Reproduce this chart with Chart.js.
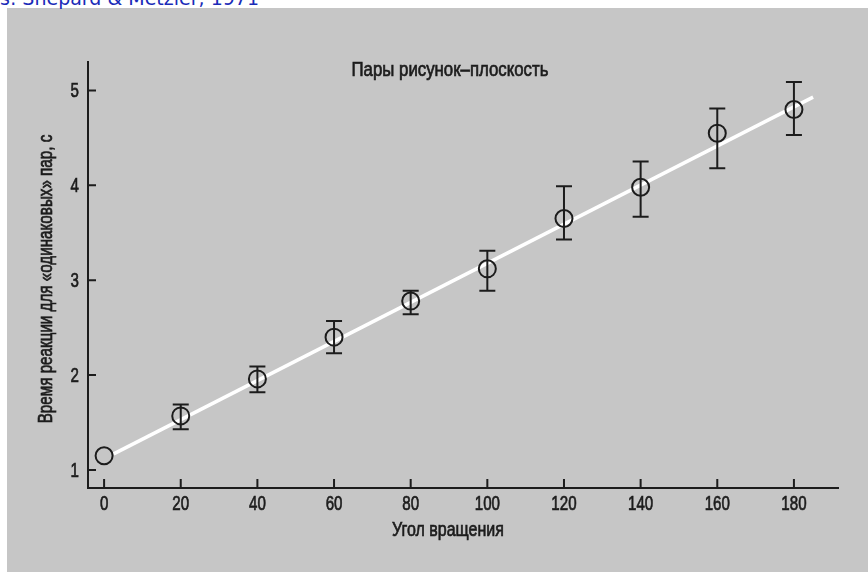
<!DOCTYPE html>
<html>
<head>
<meta charset="utf-8">
<script src="https://cdn.jsdelivr.net/npm/chart.js@4/dist/chart.umd.min.js"></script>
<style>
  body { margin: 0; background: #fff; width: 868px; height: 572px; overflow: hidden; position: relative; }
  #paper { position: absolute; left: 7px; top: 8px; right: 0; bottom: 0; background: #c6c6c6; }
  #source { position: absolute; left: 0; top: -13px; font: 19px "DejaVu Sans", Verdana, sans-serif; color: #1a2bb8; white-space: nowrap; }
  canvas { position: absolute; left: 0; top: 0; }
</style>
</head>
<body>
<div id="paper"></div>
<div id="source">s: Shepard &amp; Metzler, 1971</div>
<canvas id="rt-chart" width="868" height="572"></canvas>
<script>
// Shepard & Metzler: reaction time vs rotation angle (picture-plane pairs)
var angles = [0, 20, 40, 60, 80, 100, 120, 140, 160, 180];
var meanRT = [1.15, 1.57, 1.96, 2.40, 2.78, 3.12, 3.65, 3.98, 4.55, 4.80];
var errHigh = [null, 1.69, 2.09, 2.57, 2.89, 3.31, 3.99, 4.25, 4.81, 5.09];
var errLow = [null, 1.43, 1.82, 2.23, 2.64, 2.89, 3.43, 3.67, 4.18, 4.53];
var fitX = [2.5, 185];
var fitY = [1.17, 4.93];
var xTicks = [0, 20, 40, 60, 80, 100, 120, 140, 160, 180];
var yTicks = [1, 2, 3, 4, 5];

var FONT = "'Liberation Sans', Arial, sans-serif";
var INK = '#1c1c1c';

// condensed text, like the narrow face of the scan
function narrowText(ctx, text, x, y, align, sx) {
  ctx.save();
  ctx.translate(x, y);
  ctx.scale(sx, 1);
  ctx.textAlign = align;
  ctx.textBaseline = 'middle';
  ctx.fillText(text, 0, 0);
  ctx.lineWidth = 0.7;
  ctx.strokeText(text, 0, 0);
  ctx.restore();
}

// error bars, inward tick marks and text labels
var decor = {
  id: 'decor',
  afterDatasetsDraw: function(chart) {
    var ctx = chart.ctx, xs = chart.scales.x, ys = chart.scales.y;
    ctx.save();
    ctx.strokeStyle = INK;
    ctx.lineWidth = 2;
    for (var i = 0; i < angles.length; i++) {
      if (errHigh[i] == null) continue;
      var px = xs.getPixelForValue(angles[i]);
      var top = ys.getPixelForValue(errHigh[i]);
      var bot = ys.getPixelForValue(errLow[i]);
      ctx.beginPath();
      ctx.moveTo(px, top); ctx.lineTo(px, bot);
      ctx.moveTo(px - 8, top); ctx.lineTo(px + 8, top);
      ctx.moveTo(px - 8, bot); ctx.lineTo(px + 8, bot);
      ctx.stroke();
    }
    ctx.restore();
  },
  afterDraw: function(chart) {
    var ctx = chart.ctx, xs = chart.scales.x, ys = chart.scales.y, area = chart.chartArea;
    ctx.save();
    ctx.strokeStyle = INK;
    ctx.lineWidth = 2;
    ctx.beginPath();
    xTicks.forEach(function(v) {
      var px = xs.getPixelForValue(v);
      ctx.moveTo(px, area.bottom); ctx.lineTo(px, area.bottom - 9);
    });
    yTicks.forEach(function(v) {
      var py = ys.getPixelForValue(v);
      ctx.moveTo(area.left, py); ctx.lineTo(area.left + 8, py);
    });
    ctx.stroke();

    ctx.fillStyle = INK;
    ctx.strokeStyle = INK;
    ctx.font = '21px ' + FONT;
    xTicks.forEach(function(v) {
      narrowText(ctx, String(v), xs.getPixelForValue(v), area.bottom + 16, 'center', 0.72);
    });
    yTicks.forEach(function(v) {
      narrowText(ctx, String(v), area.left - 9, ys.getPixelForValue(v) + 1, 'right', 0.72);
    });

    ctx.font = '20px ' + FONT;
    narrowText(ctx, 'Пары рисунок\u2013плоскость', 450, 70, 'center', 0.84);
    narrowText(ctx, 'Угол вращения', 448, 530, 'center', 0.8);
    ctx.translate(46, 279);
    ctx.rotate(-Math.PI / 2);
    narrowText(ctx, 'Время реакции для «одинаковых» пар, с', 0, 0, 'center', 0.76);
    ctx.restore();
  }
};

var rtChart = new Chart(document.getElementById('rt-chart'), {
  type: 'scatter',
  data: {
    datasets: [{
      data: angles.map(function(a, i) { return { x: a, y: meanRT[i] }; }),
      pointRadius: 8.5,
      pointBorderWidth: 2,
      pointBorderColor: INK,
      pointBackgroundColor: 'rgba(0,0,0,0)'
    }, {
      type: 'line',
      data: fitX.map(function(a, i) { return { x: a, y: fitY[i] }; }),
      borderColor: '#ffffff',
      borderWidth: 3.5,
      pointRadius: 0,
      fill: false
    }]
  },
  options: {
    responsive: false,
    animation: false,
    devicePixelRatio: 1,
    layout: { padding: { left: 0, right: 30, top: 62, bottom: 0 } },
    plugins: { legend: { display: false }, tooltip: { enabled: false } },
    scales: {
      x: {
        type: 'linear',
        min: -4.2,
        max: 191.5,
        afterBuildTicks: function(s) { s.ticks = xTicks.map(function(v) { return { value: v }; }); },
        afterFit: function(s) { s.height = 84; },
        grid: { display: false, drawTicks: false },
        border: { display: true, color: INK, width: 2 },
        ticks: { display: false }
      },
      y: {
        type: 'linear',
        min: 0.81,
        max: 5.3,
        afterBuildTicks: function(s) { s.ticks = yTicks.map(function(v) { return { value: v }; }); },
        afterFit: function(s) { s.width = 88; },
        grid: { display: false, drawTicks: false },
        border: { display: true, color: INK, width: 2 },
        ticks: { display: false }
      }
    }
  },
  plugins: [decor]
});
</script>
</body>
</html>
